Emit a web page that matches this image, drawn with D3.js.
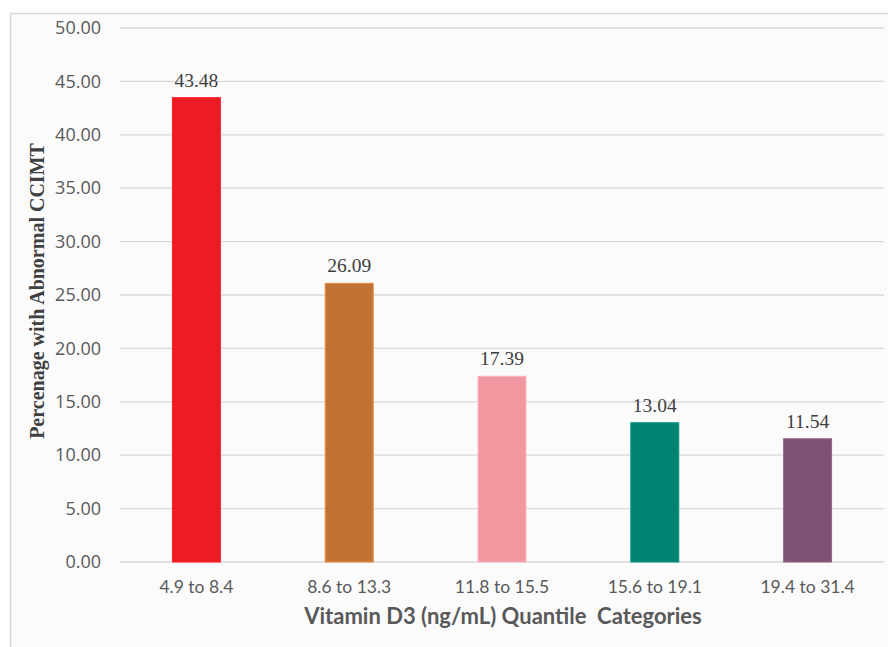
<!DOCTYPE html>
<html>
<head>
<meta charset="utf-8">
<script src="https://cdn.jsdelivr.net/npm/d3@7"></script>
<style>
  body { margin: 0; background: #fff; }
  svg { display: block; }
</style>
</head>
<body>
<svg id="chart" width="888" height="647"></svg>
<script>
// data
const categories = ['4.9 to 8.4', '8.6 to 13.3', '11.8 to 15.5', '15.6 to 19.1', '19.4 to 31.4'];
const values = [43.48, 26.09, 17.39, 13.04, 11.54];
const barColors = ['#ed1c24', '#c17334', '#f1979f', '#008272', '#7f5274'];
const yTicks = [0, 5, 10, 15, 20, 25, 30, 35, 40, 45, 50];

const svg = d3.select('#chart');
const margin = {left: 120, right: 4, top: 28, bottom: 85};
const W = 888, H = 647;

// chart frame
svg.append('rect')
  .attr('x', 10.5).attr('y', 13.5)
  .attr('width', 900).attr('height', 700)
  .attr('fill', '#fbfbfc')
  .attr('stroke', '#d8d6d4').attr('stroke-width', 1.5);

const x = d3.scaleBand()
  .domain(categories)
  .range([margin.left, W - margin.right])
  .paddingInner(0.686).paddingOuter(0.343);

const y = d3.scaleLinear()
  .domain([0, 50])
  .range([H - margin.bottom, margin.top]);

// gridlines
svg.append('g')
  .selectAll('line')
  .data(yTicks)
  .join('line')
  .attr('x1', margin.left).attr('x2', W - margin.right)
  .attr('y1', d => y(d)).attr('y2', d => y(d))
  .attr('stroke', '#d9d9d9').attr('stroke-width', 1.3);

// y axis labels
const yAxis = svg.append('g')
  .attr('transform', `translate(${margin.left - 19},0)`)
  .call(d3.axisLeft(y).tickValues(yTicks).tickFormat(d3.format('.2f')).tickSize(0).tickPadding(0));
yAxis.select('.domain').remove();
yAxis.selectAll('text')
  .attr('font-family', '"Open Sans", Lato, sans-serif')
  .attr('font-size', 18)
  .attr('fill', '#595959');

// bars
svg.append('g')
  .selectAll('rect')
  .data(values)
  .join('rect')
  .attr('x', (d, i) => x(categories[i]))
  .attr('y', d => y(d))
  .attr('width', x.bandwidth())
  .attr('height', d => y(0) - y(d))
  .attr('fill', (d, i) => barColors[i])
  .attr('stroke', (d, i) => d3.color(barColors[i]).brighter(0.5))
  .attr('stroke-width', 1);

// value labels
svg.append('g')
  .selectAll('text')
  .data(values)
  .join('text')
  .attr('x', (d, i) => x(categories[i]) + x.bandwidth() / 2)
  .attr('y', d => y(d) - 11)
  .attr('text-anchor', 'middle')
  .attr('font-family', '"Liberation Serif", "Times New Roman", serif')
  .attr('font-size', 19.5)
  .attr('fill', '#404040')
  .text(d => d.toFixed(2));

// x axis labels
const xAxis = svg.append('g')
  .attr('transform', `translate(0,${y(0) + 19})`)
  .call(d3.axisBottom(x).tickSize(0).tickPadding(0));
xAxis.select('.domain').remove();
xAxis.selectAll('text')
  .attr('font-family', 'Lato, "Open Sans", sans-serif')
  .attr('font-size', 17.5)
  .attr('fill', '#595959');

// axis titles
svg.append('text')
  .attr('x', 503).attr('y', 624)
  .attr('text-anchor', 'middle')
  .attr('font-family', 'Lato, "Open Sans", sans-serif')
  .attr('font-size', 22).attr('font-weight', 'bold')
  .attr('fill', '#595959')
  .style('white-space', 'pre')
  .text('Vitamin D3 (ng/mL) Quantile  Categories');

svg.append('text')
  .attr('transform', 'translate(44,291) rotate(-90)')
  .attr('text-anchor', 'middle')
  .attr('font-family', '"Liberation Serif", "Times New Roman", serif')
  .attr('font-size', 20).attr('font-weight', 'bold')
  .attr('fill', '#404040')
  .text('Percenage with Abnormal CCIMT');
</script>
</body>
</html>
